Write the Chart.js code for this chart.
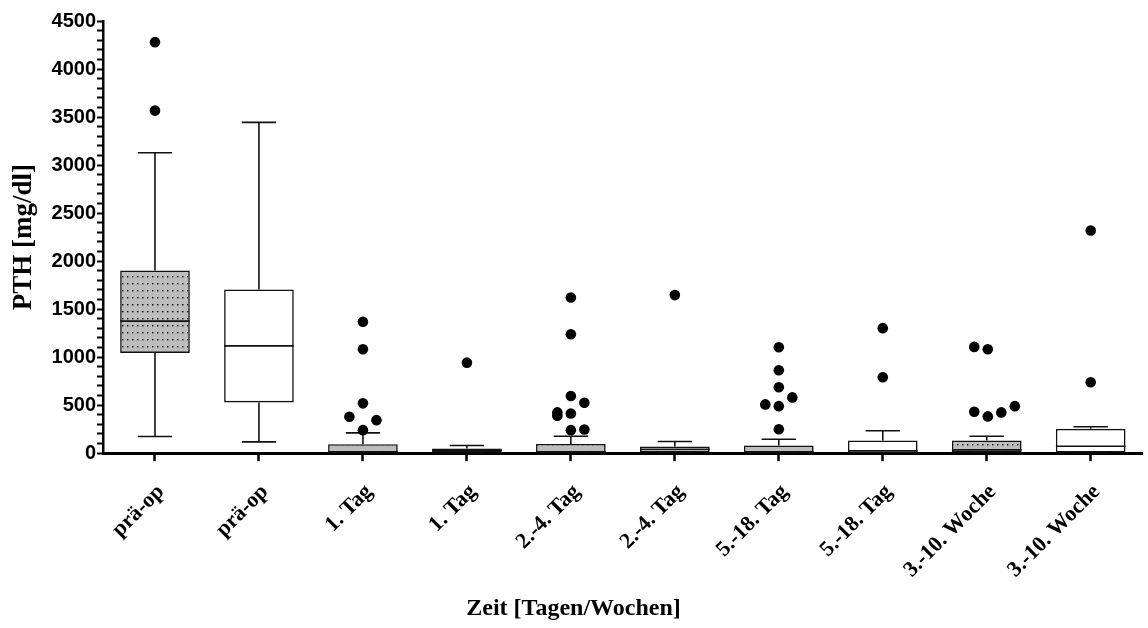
<!DOCTYPE html>
<html>
<head>
<meta charset="utf-8">
<script src="https://cdn.jsdelivr.net/npm/chart.js@4.4.1/dist/chart.umd.min.js"></script>
<style>
  html, body { margin: 0; padding: 0; background: #fff; }
</style>
</head>
<body>
<canvas id="pthChart" width="1148" height="628"></canvas>
<script>
// groups: grey (dotted) and white boxes alternate
const categories = ['prä-op', 'prä-op', '1. Tag', '1. Tag', '2.-4. Tag', '2.-4. Tag',
                    '5.-18. Tag', '5.-18. Tag', '3.-10. Woche', '3.-10. Woche'];
const dotted = [true, false, true, false, true, false, true, false, true, false];

const whiskerLow  = [174, 118, 0, 0, 0, 0, 0, 0, 0, 0];
const quart1      = [1044, 529, 5, 5, 5, 8, 5, 3, 8, 5];
const medians     = [1375, 1117, 15, 31, 15, 40, 15, 25, 35, 73];
const quart3      = [1903, 1705, 94, 49, 97, 70, 80, 132, 132, 254];
const whiskerHigh = [3129, 3445, 212, 80, 177, 122, 146, 233, 177, 275];

const outliers = [
    [4280, 3567],
    [],
    [1368, 1083, 519, 379, 344, 240],
    [943],
    [1621, 1239, 595, 525, 425, 390, 414, 240, 247],
    [1646],
    [1103, 863, 686, 581, 508, 490, 250],
    [1302, 790],
    [1107, 1082, 431, 383, 425, 490],
    [2318, 738]
];
// horizontal spread of the outlier dots (in category units)
const outlierSpread = [
    [0, 0],
    [],
    [0, 0, 0, -0.13, 0.13, 0],
    [0],
    [0, 0, 0, 0.13, -0.13, -0.13, 0, 0, 0.13],
    [0],
    [0, 0, 0, 0.13, -0.13, 0, 0],
    [0, 0],
    [-0.12, 0.01, -0.12, 0.01, 0.14, 0.27],
    [0, 0]
];

const yMax = 4500;
const yMajor = 500;
const yMinor = 100;

document.addEventListener("DOMContentLoaded", () => {
    const ctx = document.getElementById('pthChart').getContext('2d');

    // grey fill with small black dots
    const tile = document.createElement('canvas');
    tile.width = 5; tile.height = 7;
    const tctx = tile.getContext('2d');
    tctx.fillStyle = '#bdbdbd';
    tctx.fillRect(0, 0, 5, 7);
    tctx.fillStyle = '#000';
    tctx.fillRect(2, 3, 1.4, 1.4);
    const greyDots = ctx.createPattern(tile, 'repeat');

    const boxHalf = 0.335;
    const capHalf = 0.165;

    const boxes = categories.map((_, i) => ({ x: i, y: [quart1[i], quart3[i]] }));

    const whiskers = [];
    const medianLines = [];
    categories.forEach((_, i) => {
        whiskers.push(
            { x: i, y: quart3[i] }, { x: i, y: whiskerHigh[i] }, { x: i, y: null },
            { x: i - capHalf, y: whiskerHigh[i] }, { x: i + capHalf, y: whiskerHigh[i] }, { x: i, y: null },
            { x: i, y: quart1[i] }, { x: i, y: whiskerLow[i] }, { x: i, y: null },
            { x: i - capHalf, y: whiskerLow[i] }, { x: i + capHalf, y: whiskerLow[i] }, { x: i, y: null }
        );
        medianLines.push(
            { x: i - boxHalf, y: medians[i] }, { x: i + boxHalf, y: medians[i] }, { x: i, y: null }
        );
    });

    const dots = [];
    outliers.forEach((vals, i) => {
        vals.forEach((v, k) => dots.push({ x: i + outlierSpread[i][k], y: v }));
    });

    new Chart(ctx, {
        type: 'line',
        data: {
            datasets: [
                {
                    type: 'bar',
                    data: boxes,
                    backgroundColor: dotted.map(d => d ? greyDots : '#ffffff'),
                    borderColor: '#111',
                    borderWidth: 1.6,
                    borderSkipped: false,
                    barPercentage: 0.67,
                    categoryPercentage: 1,
                    order: 3
                },
                {
                    type: 'line',
                    data: whiskers,
                    borderColor: '#111',
                    borderWidth: 1.6,
                    pointRadius: 0,
                    spanGaps: false,
                    fill: false,
                    order: 2
                },
                {
                    type: 'line',
                    data: medianLines,
                    borderColor: '#111',
                    borderWidth: 1.6,
                    pointRadius: 0,
                    spanGaps: false,
                    fill: false,
                    order: 2
                },
                {
                    type: 'scatter',
                    data: dots,
                    backgroundColor: '#000',
                    borderWidth: 0,
                    pointRadius: 5.3,
                    showLine: false,
                    order: 1
                }
            ]
        },
        options: {
            responsive: false,
            animation: false,
            layout: { padding: { top: 21, right: 1, bottom: 0, left: 0 } },
            plugins: {
                legend: { display: false },
                tooltip: { enabled: false },
                title: {
                    display: true,
                    position: 'bottom',
                    text: 'Zeit [Tagen/Wochen]',
                    color: '#000',
                    font: { family: "'Liberation Serif', 'Times New Roman', serif", weight: 'bold', size: 24 },
                    padding: { top: 0, bottom: 5 }
                }
            },
            scales: {
                x: {
                    type: 'linear',
                    min: -0.5,
                    max: categories.length - 0.5,
                    offset: false,
                    afterBuildTicks: s => { s.ticks = categories.map((_, i) => ({ value: i })); },
                    afterFit: s => { s.height = 141; },
                    ticks: {
                        callback: v => categories[v],
                        autoSkip: false,
                        minRotation: 45,
                        maxRotation: 45,
                        padding: 18,
                        labelOffset: 6,
                        color: '#000',
                        font: { family: "'Liberation Serif', 'Times New Roman', serif", weight: 'bold', size: 22 }
                    },
                    grid: { offset: false, drawOnChartArea: false, tickLength: 8, tickWidth: 2.5, tickColor: '#000' },
                    border: { color: '#000', width: 3 }
                },
                y: {
                    min: 0,
                    max: yMax,
                    afterFit: s => { s.width = 103; },
                    ticks: {
                        stepSize: yMinor,
                        maxTicksLimit: 100,
                        autoSkip: false,
                        callback: v => (v % yMajor === 0 ? String(v) : ''),
                        padding: 1,
                        color: '#000',
                        font: { family: "'Liberation Sans', Arial, sans-serif", weight: 'bold', size: 20 }
                    },
                    grid: { drawOnChartArea: false, tickLength: 6, tickWidth: 2, tickColor: '#000' },
                    border: { color: '#000', width: 2.5 },
                    title: {
                        display: true,
                        text: 'PTH [mg/dl]',
                        color: '#000',
                        font: { family: "'Liberation Serif', 'Times New Roman', serif", weight: 'bold', size: 27 },
                        padding: { top: 8, bottom: 0 }
                    }
                }
            }
        }
    });
});
</script>
</body>
</html>
